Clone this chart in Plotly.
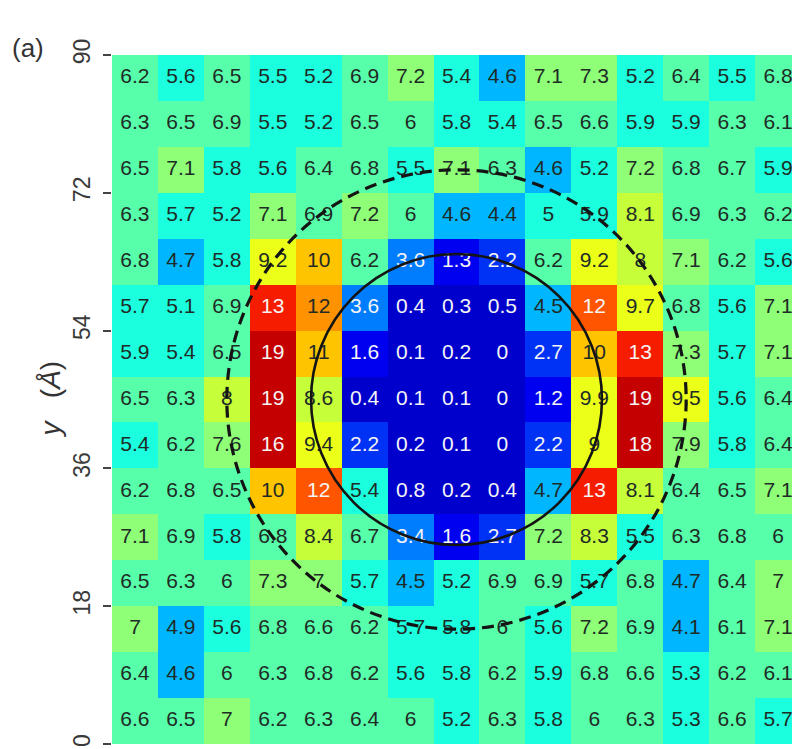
import plotly.graph_objects as go

# ---------------- data ----------------
# cell centres (Å)
x_centers = [3, 9, 15, 21, 27, 33, 39, 45, 51, 57, 63, 69, 75, 81, 87]
y_centers_top_to_bottom = [87, 81, 75, 69, 63, 57, 51, 45, 39, 33, 27, 21, 15, 9, 3]

# values, listed row by row from the top row (y = 87) to the bottom row (y = 3)
row_87 = [6.2, 5.6, 6.5, 5.5, 5.2, 6.9, 7.2, 5.4, 4.6, 7.1, 7.3, 5.2, 6.4, 5.5, 6.8]
row_81 = [6.3, 6.5, 6.9, 5.5, 5.2, 6.5, 6.0, 5.8, 5.4, 6.5, 6.6, 5.9, 5.9, 6.3, 6.1]
row_75 = [6.5, 7.1, 5.8, 5.6, 6.4, 6.8, 5.5, 7.1, 6.3, 4.6, 5.2, 7.2, 6.8, 6.7, 5.9]
row_69 = [6.3, 5.7, 5.2, 7.1, 6.9, 7.2, 6.0, 4.6, 4.4, 5.0, 5.9, 8.1, 6.9, 6.3, 6.2]
row_63 = [6.8, 4.7, 5.8, 9.2, 10.2, 6.2, 3.6, 1.3, 2.2, 6.2, 9.2, 8.0, 7.1, 6.2, 5.6]
row_57 = [5.7, 5.1, 6.9, 13.2, 11.6, 3.6, 0.4, 0.3, 0.5, 4.5, 12.3, 9.7, 6.8, 5.6, 7.1]
row_51 = [5.9, 5.4, 6.5, 19.0, 10.8, 1.6, 0.1, 0.2, 0.0, 2.7, 10.2, 13.2, 7.3, 5.7, 7.1]
row_45 = [6.5, 6.3, 8.0, 19.0, 8.6, 0.4, 0.1, 0.1, 0.0, 1.2, 9.9, 19.0, 9.5, 5.6, 6.4]
row_39 = [5.4, 6.2, 7.6, 16.0, 9.4, 2.2, 0.2, 0.1, 0.0, 2.2, 9.0, 18.0, 7.9, 5.8, 6.4]
row_33 = [6.2, 6.8, 6.5, 10.2, 12.3, 5.4, 0.8, 0.2, 0.4, 4.7, 13.2, 8.1, 6.4, 6.5, 7.1]
row_27 = [7.1, 6.9, 5.8, 6.8, 8.4, 6.7, 3.4, 1.6, 2.7, 7.2, 8.3, 5.5, 6.3, 6.8, 6.0]
row_21 = [6.5, 6.3, 6.0, 7.3, 7.0, 5.7, 4.5, 5.2, 6.9, 6.9, 5.7, 6.8, 4.7, 6.4, 7.0]
row_15 = [7.0, 4.9, 5.6, 6.8, 6.6, 6.2, 5.7, 5.8, 6.0, 5.6, 7.2, 6.9, 4.1, 6.1, 7.1]
row_9 = [6.4, 4.6, 6.0, 6.3, 6.8, 6.2, 5.6, 5.8, 6.2, 5.9, 6.8, 6.6, 5.3, 6.2, 6.1]
row_3 = [6.6, 6.5, 7.0, 6.2, 6.3, 6.4, 6.0, 5.2, 6.3, 5.8, 6.0, 6.3, 5.3, 6.6, 5.7]

rows_top_to_bottom = [row_87, row_81, row_75, row_69, row_63, row_57, row_51, row_45,
                      row_39, row_33, row_27, row_21, row_15, row_9, row_3]

y_ticks = [0, 18, 36, 54, 72, 90]

# circle centre and radii (Å)
circle_center = (45, 45)
inner_radius = 19
outer_radius = 30

# ---------------- style ----------------
bin_colors = [
    "rgb(0,0,205)",     # 0-1
    "rgb(0,0,240)",     # 1-2
    "rgb(0,50,245)",    # 2-3
    "rgb(0,125,255)",   # 3-4
    "rgb(0,182,255)",   # 4-5
    "rgb(28,255,222)",  # 5-6
    "rgb(88,255,170)",  # 6-7
    "rgb(142,255,118)", # 7-8
    "rgb(198,255,58)",  # 8-9
    "rgb(236,255,25)",  # 9-10
    "rgb(255,196,0)",   # 10-11
    "rgb(255,146,0)",   # 11-12
    "rgb(255,85,0)",    # 12-13
    "rgb(245,28,0)",    # 13-14
    "rgb(196,0,0)",     # >=14
]
nb = len(bin_colors)
colorscale = []
for i, c in enumerate(bin_colors):
    colorscale.append([i / nb, c])
    colorscale.append([(i + 1) / nb, c])


def fmt(v):
    if v >= 10:
        return f"{v:.0f}"
    s = f"{v:.1f}"
    if s.endswith(".0"):
        s = s[:-2]
    return s


fig = go.Figure()
fig.add_trace(go.Heatmap(
    x=x_centers, y=y_centers_top_to_bottom, z=rows_top_to_bottom,
    colorscale=colorscale, zmin=-0.05, zmax=nb - 0.05,
    showscale=False, hoverinfo="skip",
))

dark_x, dark_y, dark_t = [], [], []
light_x, light_y, light_t = [], [], []
for yc, row in zip(y_centers_top_to_bottom, rows_top_to_bottom):
    for xc, v in zip(x_centers, row):
        if v < 4 or v >= 12:
            light_x.append(xc); light_y.append(yc); light_t.append(fmt(v))
        else:
            dark_x.append(xc); dark_y.append(yc); dark_t.append(fmt(v))

font_family = "Arial, Liberation Sans, sans-serif"
fig.add_trace(go.Scatter(x=dark_x, y=dark_y, text=dark_t, mode="text",
                         textfont=dict(size=21, color="#1e2b26", family=font_family),
                         hoverinfo="skip", showlegend=False))
fig.add_trace(go.Scatter(x=light_x, y=light_y, text=light_t, mode="text",
                         textfont=dict(size=21, color="#f4f4f4", family=font_family),
                         hoverinfo="skip", showlegend=False))

cx, cy = circle_center
fig.add_shape(type="circle", xref="x", yref="y",
              x0=cx - inner_radius, x1=cx + inner_radius,
              y0=cy - inner_radius, y1=cy + inner_radius,
              line=dict(color="#141414", width=2.6))
fig.add_shape(type="circle", xref="x", yref="y",
              x0=cx - outer_radius, x1=cx + outer_radius,
              y0=cy - outer_radius, y1=cy + outer_radius,
              line=dict(color="#141414", width=3.2, dash="12px,7px"))

fig.add_annotation(text="(a)", xref="paper", yref="paper", x=0, y=1,
                   xanchor="center", yanchor="middle", xshift=-84, yshift=7,
                   showarrow=False, font=dict(size=26, color="#333333", family=font_family))
fig.add_annotation(text="<i>y</i>&nbsp;&nbsp;&nbsp;(<i>Å</i>)", xref="paper", yref="paper",
                   x=0, y=0.5, xanchor="center", yanchor="middle", xshift=-62, textangle=-90,
                   showarrow=False, font=dict(size=28, color="#333333", family=font_family))

fig.update_xaxes(range=[0, 90], visible=False, showgrid=False, zeroline=False)
fig.update_yaxes(range=[0, 90], tickvals=y_ticks, ticktext=[str(t) for t in y_ticks],
                 tickangle=-90, ticks="outside", ticklen=8, tickwidth=1.5,
                 tickcolor="#444444", showgrid=False, zeroline=False, showline=False,
                 tickfont=dict(size=23, color="#3a3a3a", family=font_family),
                 ticklabelstandoff=4)

# the page body adds an 8 px offset; margins compensate for it
fig.update_layout(width=800, height=749,
                  margin=dict(l=104, r=7, t=47, b=13),
                  paper_bgcolor="white", plot_bgcolor="white",
                  showlegend=False)

fig.write_html("out.html")
